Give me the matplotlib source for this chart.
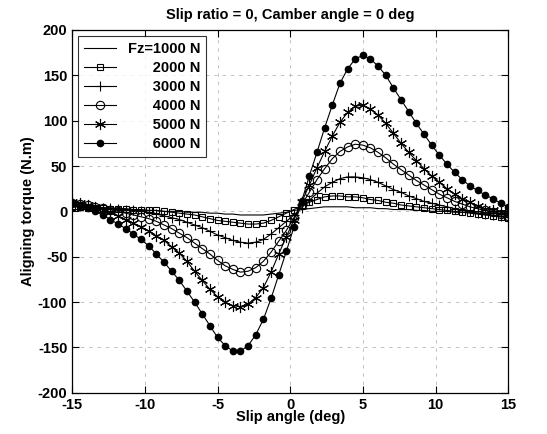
import numpy as np
import matplotlib
matplotlib.use("Agg")
import matplotlib.pyplot as plt

plt.rcParams['font.family'] = ['Liberation Sans', 'DejaVu Sans']
plt.rcParams['font.weight'] = 'bold'
plt.rcParams['axes.unicode_minus'] = False

# slip angle samples (deg), 58 points from -15 to 15
slip_angle = np.linspace(-15, 15, 58)

fz1000 = [2, 2, 2, 2, 2, 2, 1, 1, 1, 1,
          1, 1, 0, 0, 0, -1, -1, -1, -2, -2,
          -3, -3, -4, -4, -4, -4, -3, -2, -1, 1,
          2, 3, 4, 5, 5, 5, 5, 4, 4, 4,
          3, 3, 2, 2, 2, 1, 1, 0, 0, 0,
          -1, -1, -1, -2, -2, -2, -3, -3]
fz2000 = [5, 5, 4, 4, 4, 3, 3, 3, 2, 2,
          1, 1, 0, -1, -2, -3, -4, -6, -8, -10,
          -11, -12, -13, -14, -14, -13, -10, -6, -2, 2,
          6, 10, 13, 16, 17, 17, 16, 16, 15, 13,
          12, 10, 9, 7, 6, 5, 4, 3, 2, 1,
          0, -1, -2, -3, -4, -5, -6, -7]
fz3000 = [7, 6, 6, 5, 4, 4, 3, 2, 1, 0,
          -1, -3, -5, -7, -9, -12, -15, -18, -22, -26,
          -29, -32, -34, -35, -34, -31, -25, -18, -11, -4,
          4, 12, 20, 27, 32, 36, 38, 38, 37, 35,
          32, 28, 24, 21, 17, 14, 11, 9, 7, 5,
          3, 1, 0, -2, -3, -4, -5, -6]
fz4000 = [9, 8, 7, 5, 4, 2, 0, -2, -4, -6,
          -8, -11, -15, -19, -24, -29, -35, -41, -47, -54,
          -60, -64, -67, -66, -62, -55, -45, -33, -21, -7,
          7, 21, 35, 47, 58, 66, 71, 74, 73, 70,
          65, 59, 52, 46, 40, 34, 29, 24, 19, 15,
          11, 8, 5, 3, 1, -1, -3, -5]
fz5000 = [10, 9, 7, 5, 2, -1, -5, -9, -13, -17,
          -22, -27, -32, -39, -46, -55, -66, -76, -86, -94,
          -100, -104, -105, -102, -95, -84, -67, -47, -28, -9,
          10, 29, 48, 66, 83, 98, 109, 116, 117, 113,
          106, 97, 86, 75, 65, 56, 47, 39, 32, 25,
          19, 14, 10, 6, 3, 1, -1, -3]
fz6000 = [9, 7, 4, 0, -4, -9, -14, -19, -25, -31,
          -38, -47, -56, -66, -76, -88, -100, -113, -126, -139,
          -148, -154, -154, -148, -136, -119, -96, -70, -44, -17,
          11, 39, 65, 92, 117, 141, 157, 168, 172, 168,
          160, 150, 136, 123, 110, 97, 85, 73, 62, 52,
          43, 35, 28, 23, 18, 14, 9, 5]

labels = ['Fz=1000 N', '      2000 N', '      3000 N', '      4000 N', '      5000 N', '      6000 N']

fig = plt.figure(figsize=(5.47, 4.34), dpi=100)
ax = fig.add_axes([0.132, 0.095, 0.797, 0.836])

lw = 0.8
ax.plot(slip_angle, fz1000, color='k', lw=lw, label=labels[0])
ax.plot(slip_angle, fz2000, color='k', lw=lw, marker='s', ms=5, mfc='none', mew=0.8, label=labels[1])
ax.plot(slip_angle, fz3000, color='k', lw=lw, marker='+', ms=7, mew=0.8, label=labels[2])
ax.plot(slip_angle, fz4000, color='k', lw=lw, marker='o', ms=6, mfc='none', mew=0.8, label=labels[3])
ax.plot(slip_angle, fz5000, color='k', lw=lw, marker=(6, 2, 0), ms=8, mew=0.8, label=labels[4])
ax.plot(slip_angle, fz6000, color='k', lw=lw, marker='o', ms=4.5, mfc='k', label=labels[5])

ax.set_xlim(-15, 15)
ax.set_ylim(-200, 200)
ax.set_xticks(np.arange(-15, 16, 5))
ax.set_yticks(np.arange(-200, 201, 50))
ax.grid(True, color='#aaaaaa', linestyle=(0, (5, 7)), linewidth=0.5)
ax.tick_params(direction='in', length=5, top=True, right=True, labelsize=10.5, width=0.8)
for s in ax.spines.values():
    s.set_linewidth(0.9)

ax.set_title('Slip ratio = 0, Camber angle = 0 deg', fontsize=10.5, fontweight='bold', pad=8)
ax.set_xlabel('Slip angle (deg)', fontsize=10.5, fontweight='bold', labelpad=-1)
ax.set_ylabel('Aligning torque (N.m)', fontsize=10.5, fontweight='bold', labelpad=2)

leg = ax.legend(loc='upper left', fontsize=10.5, frameon=True, fancybox=False,
                edgecolor='k', borderaxespad=0.4, handlelength=2.2, labelspacing=0.35,
                borderpad=0.4, handletextpad=0.8)
leg.get_frame().set_linewidth(0.8)

fig.savefig('out.png', dpi=100)
